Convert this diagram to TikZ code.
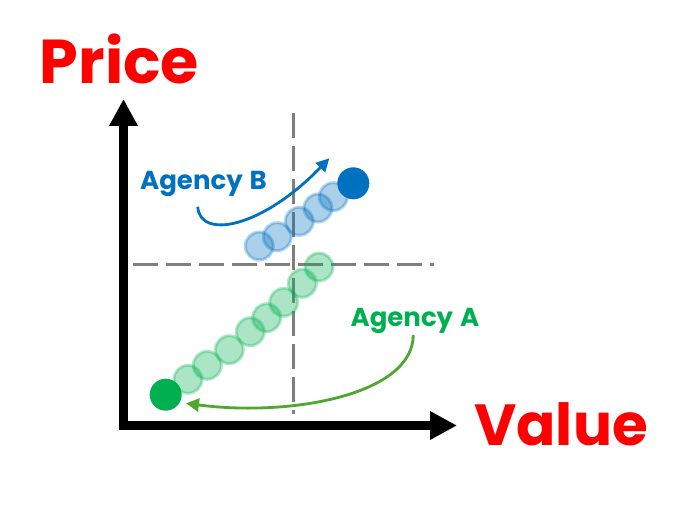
\documentclass[tikz,border=0pt]{standalone}
\usepackage{fontspec}
\setmainfont{Poppins}
\usetikzlibrary{arrows.meta}
\definecolor{agencygreen}{HTML}{00B050}
\definecolor{agencyblue}{HTML}{0070C0}
\definecolor{curvegreen}{HTML}{4EA72E}
\definecolor{guidegray}{HTML}{7F7F7F}
\tikzset{
    axis/.style={line width=8.5pt, line join=miter, {Triangle[length=27pt,width=27pt]}-{Triangle[length=27pt,width=27pt]}},
    guide/.style={guidegray, line width=3pt, dash pattern=on 25pt off 8pt},
    axislabel/.style={red, font=\fontsize{#1}{#1}\selectfont\bfseries},
    agencylabel/.style={font=\fontsize{26}{26}\selectfont\bfseries},
    now/.style={circle, minimum size=32pt, inner sep=0pt, fill=#1},
    trail/.style={circle, minimum size=28pt, inner sep=0pt, line width=3pt, draw=#1, fill=#1, fill opacity=0.33, draw opacity=0.3},
    move/.style={line width=2.8pt, -{Triangle[length=13pt,width=13pt]}},
}
\begin{document}
\begin{tikzpicture}[x=1pt, y=-1pt]
    \useasboundingbox (0,0) rectangle (699,505);
    % axes
    \coordinate (origin) at (123.5,425.5);
    \coordinate (ytip) at (123.5,99);
    \coordinate (xtip) at (457,425.5);
    \draw[axis] (ytip) -- (origin) -- (xtip);
    \node[axislabel=62] (price) at (119.5,59) {Price};
    \node[axislabel=58] (value) at (561,424) {Value};
    % guides
    \coordinate (vtop) at (293.5,113);
    \coordinate (vbot) at (293.5,414);
    \coordinate (hleft) at (133,264.5);
    \coordinate (hright) at (434,264.5);
    \draw[guide] (vtop) -- (vbot);
    \draw[guide] (hleft) -- (hright);
    % trails
    \foreach \x/\y [count=\i] in {188/379.3, 207.3/365.3, 229.3/349.7, 250.3/331.7, 266.7/317.7, 283.7/302.3, 302.3/283.3, 319/267}
        \node[trail=agencygreen] (a\i) at (\x,\y) {};
    \foreach \x/\y [count=\i] in {333.3/196.7, 318/208, 299.3/221.3, 277.3/236.7, 259.3/246}
        \node[trail=agencyblue] (b\i) at (\x,\y) {};
    \node[now=agencygreen] (a) at (165.7,394.7) {};
    \node[now=agencyblue] (b) at (353.3,183.3) {};
    % labels and moves
    \node[agencylabel, text=agencyblue] (labelb) at (203.5,184) {Agency\hspace{7pt}B};
    \node[agencylabel, text=agencygreen] (labela) at (415,321) {Agency\hspace{7pt}A};
    \coordinate (bstart) at (197.7,206.7);
    \coordinate (bend) at (329.3,158.3);
    \coordinate (astart) at (413.3,335);
    \coordinate (aend) at (186,403.3);
    \draw[move, agencyblue] (bstart) .. controls (200,240) and (262,228) .. (bend);
    \draw[move, curvegreen] (astart) .. controls (413,395) and (290,417) .. (aend);
\end{tikzpicture}
\end{document}
